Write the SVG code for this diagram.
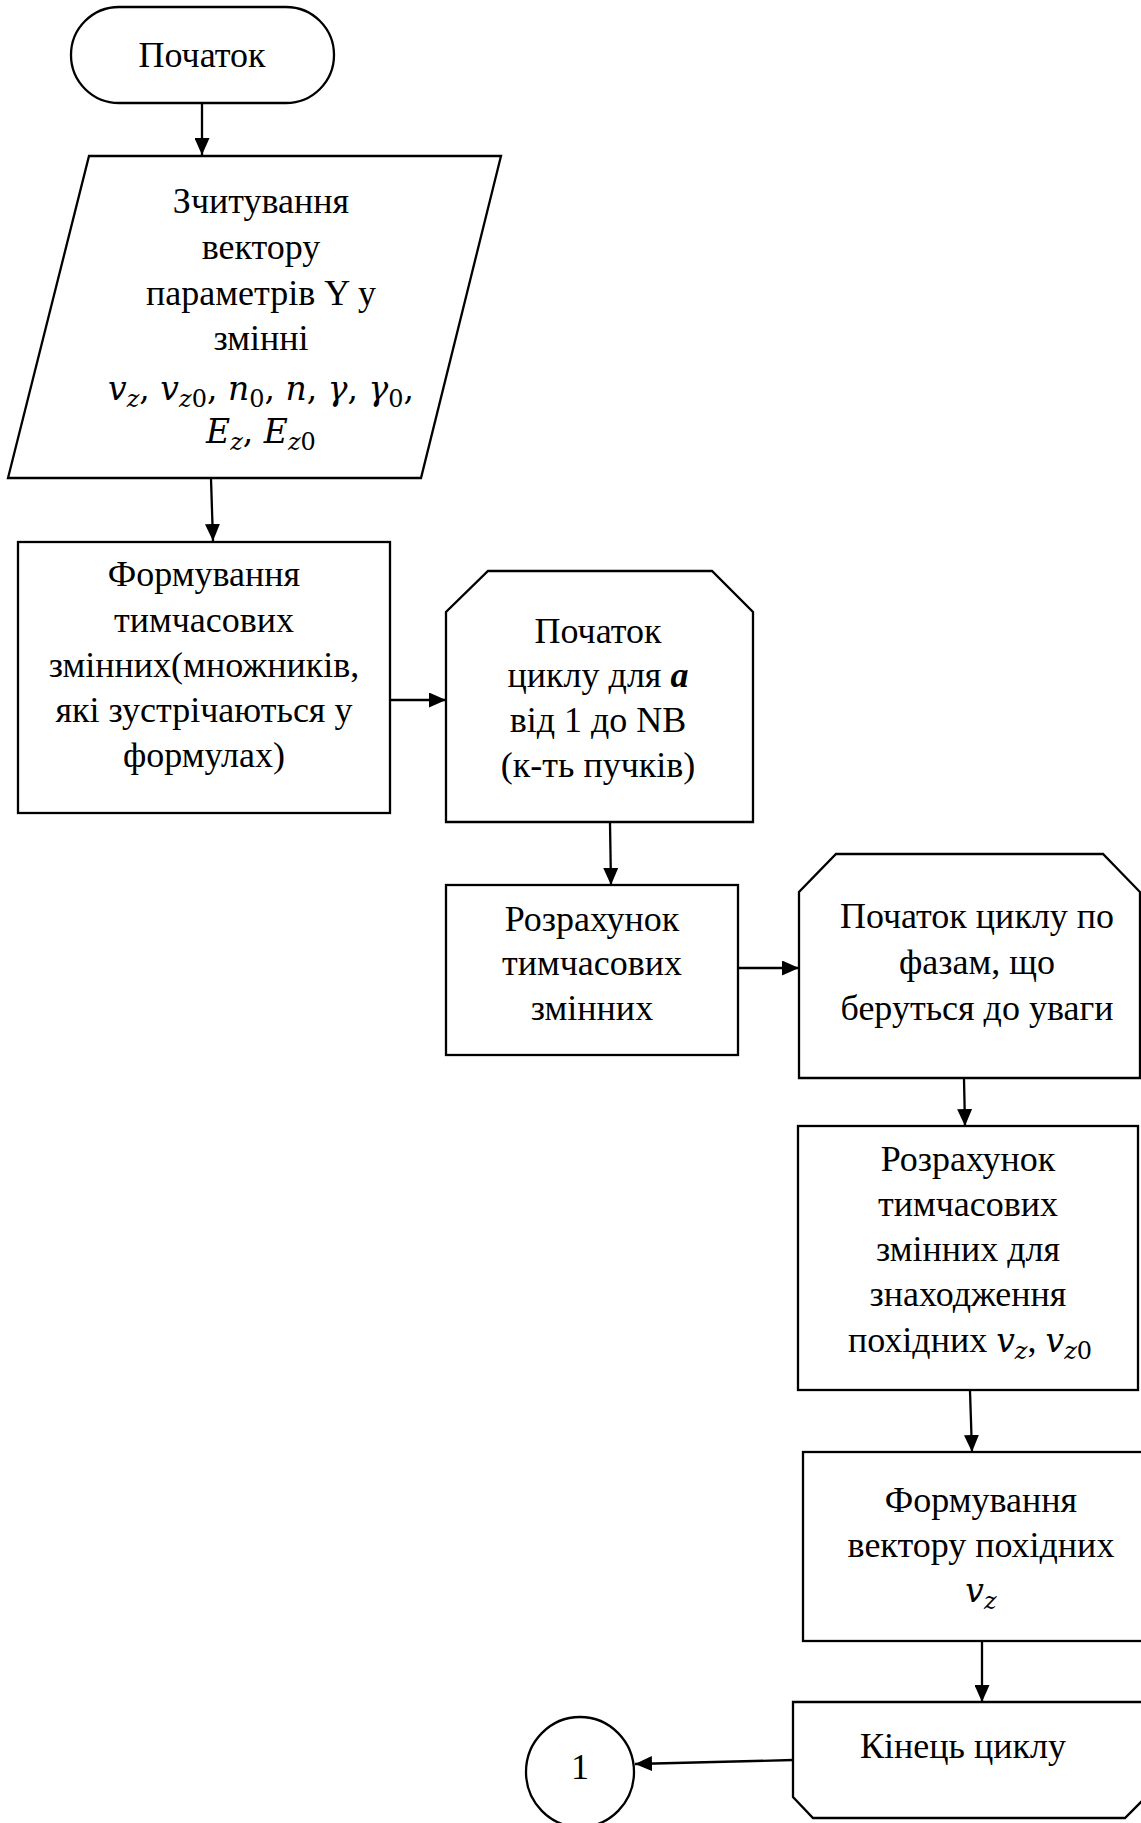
<svg xmlns="http://www.w3.org/2000/svg" width="1141" height="1823" viewBox="0 0 1141 1823">
  <style>
    .shape { fill: #ffffff; stroke: #000000; stroke-width: 2.3; stroke-linejoin: miter; }
    .t { font-family: "Liberation Serif", "Times New Roman", serif; font-size: 36px; fill: #000000; text-anchor: middle; }
    .m { font-family: "DejaVu Serif", "Liberation Serif", serif; font-style: italic; font-size: 33px; fill: #000000; }
    .sub { font-size: 24px; }
    .up { font-style: normal; }
    .ba { font-weight: bold; font-style: italic; }
    .conn line { stroke: #000000; stroke-width: 2.3; marker-end: url(#arrow); }
  </style>
  <defs>
    <marker id="arrow" markerUnits="userSpaceOnUse" markerWidth="17" markerHeight="15" refX="17" refY="7.5" orient="auto">
      <path d="M0,0 L17,7.5 L0,15 z" fill="#000000"/>
    </marker>
  </defs>

  <rect x="0" y="0" width="1141" height="1823" fill="#ffffff"/>

  <!-- connectors -->
  <g id="connectors" class="conn">
    <line x1="202" y1="104" x2="202" y2="155"/>
    <line x1="211" y1="479" x2="213" y2="541"/>
    <line x1="390" y1="700" x2="446" y2="700"/>
    <line x1="610" y1="823" x2="611" y2="885"/>
    <line x1="739" y1="968" x2="799" y2="968"/>
    <line x1="964" y1="1079" x2="965" y2="1126"/>
    <line x1="970" y1="1391" x2="972" y2="1452"/>
    <line x1="982" y1="1642" x2="982" y2="1702"/>
    <line x1="793" y1="1760" x2="635" y2="1764"/>
  </g>

  <!-- start terminator -->
  <g id="start">
    <rect class="shape" x="71" y="7" width="263" height="96" rx="48" ry="48"/>
    <text class="t" x="202" y="67">Початок</text>
  </g>

  <!-- input: read parameter vector -->
  <g id="read-input">
    <polygon class="shape" points="89,156 501,156 421,478 8,478"/>
    <text class="t" x="261" y="213">Зчитування</text>
    <text class="t" x="261" y="259">вектору</text>
    <text class="t" x="261" y="305">параметрів Y у</text>
    <text class="t" x="261" y="350">змінні</text>
    <text class="m" x="261" y="400" text-anchor="middle">v<tspan class="sub" dy="7">z</tspan><tspan class="up" dy="-7">, </tspan>v<tspan class="sub" dy="7">z</tspan><tspan class="sub up">0</tspan><tspan class="up" dy="-7">, </tspan>n<tspan class="sub up" dy="7">0</tspan><tspan class="up" dy="-7">, </tspan>n<tspan class="up">, </tspan>γ<tspan class="up">, </tspan>γ<tspan class="sub up" dy="7">0</tspan><tspan class="up" dy="-7">,</tspan></text>
    <text class="m" x="261" y="443" text-anchor="middle">E<tspan class="sub" dy="7">z</tspan><tspan class="up" dy="-7">, </tspan>E<tspan class="sub" dy="7">z</tspan><tspan class="sub up">0</tspan></text>
  </g>

  <!-- temporary multipliers -->
  <g id="form-temp">
    <rect class="shape" x="18" y="542" width="372" height="271"/>
    <text class="t" x="204" y="586">Формування</text>
    <text class="t" x="204" y="632">тимчасових</text>
    <text class="t" x="204" y="677">змінних(множників,</text>
    <text class="t" x="204" y="722">які зустрічаються у</text>
    <text class="t" x="204" y="767">формулах)</text>
  </g>

  <!-- loop over bunches -->
  <g id="loop-bunches">
    <polygon class="shape" points="488,571 712,571 753,612 753,822 446,822 446,612"/>
    <text class="t" x="598" y="643">Початок</text>
    <text class="t" x="598" y="687">циклу для <tspan class="ba">a</tspan></text>
    <text class="t" x="598" y="732">від 1 до NB</text>
    <text class="t" x="598" y="777">(к-ть пучків)</text>
  </g>

  <!-- temporary variables -->
  <g id="calc-temp">
    <rect class="shape" x="446" y="885" width="292" height="170"/>
    <text class="t" x="592" y="931">Розрахунок</text>
    <text class="t" x="592" y="975">тимчасових</text>
    <text class="t" x="592" y="1020">змінних</text>
  </g>

  <!-- loop over phases -->
  <g id="loop-phases">
    <polygon class="shape" points="836,854 1103,854 1140,892 1140,1078 799,1078 799,892"/>
    <text class="t" x="977" y="928">Початок циклу по</text>
    <text class="t" x="977" y="974">фазам, що</text>
    <text class="t" x="977" y="1020">беруться до уваги</text>
  </g>

  <!-- derivative helpers -->
  <g id="calc-deriv">
    <rect class="shape" x="798" y="1126" width="340" height="264"/>
    <text class="t" x="968" y="1171">Розрахунок</text>
    <text class="t" x="968" y="1216">тимчасових</text>
    <text class="t" x="968" y="1261">змінних для</text>
    <text class="t" x="968" y="1306">знаходження</text>
    <text class="t" x="970" y="1352">похідних <tspan class="m">v</tspan><tspan class="m sub" dy="7">z</tspan><tspan dy="-7">, </tspan><tspan class="m">v</tspan><tspan class="m sub" dy="7">z</tspan><tspan class="m sub up">0</tspan></text>
  </g>

  <!-- derivative vector -->
  <g id="form-vector">
    <rect class="shape" x="803" y="1452" width="360" height="189"/>
    <text class="t" x="981" y="1512">Формування</text>
    <text class="t" x="981" y="1557">вектору похідних</text>
    <text class="m" x="981" y="1602" text-anchor="middle">v<tspan class="sub" dy="7">z</tspan></text>
  </g>

  <!-- loop end -->
  <g id="loop-end">
    <polygon class="shape" points="793,1702 1146,1702 1146,1797 1125,1818 813,1818 793,1797"/>
    <text class="t" x="963" y="1758">Кінець циклу</text>
  </g>

  <!-- off-page connector -->
  <g id="connector-1">
    <ellipse class="shape" cx="580" cy="1772" rx="54" ry="55"/>
    <text class="t" x="580" y="1779">1</text>
  </g>
</svg>
